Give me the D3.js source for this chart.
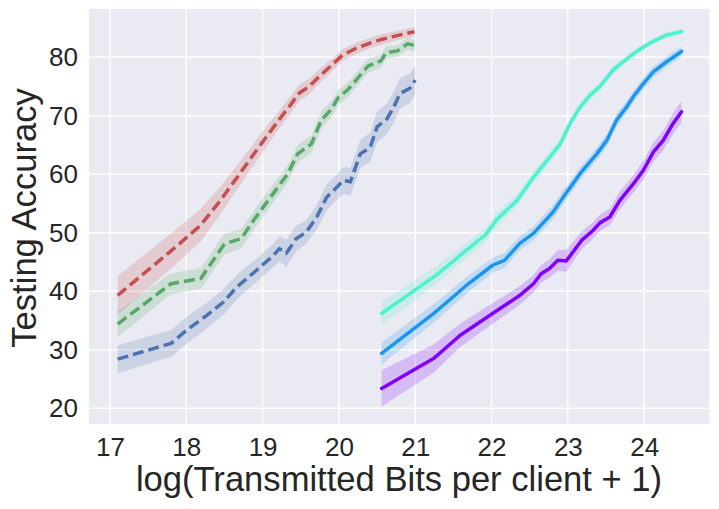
<!DOCTYPE html>
<html>
<head>
    <script src="https://d3js.org/d3.v7.min.js"></script>
    <style>
        body { margin: 0; background: #ffffff; }
        text { font-family: "Liberation Sans", Arial, sans-serif; fill: #262626; }
    </style>
</head>
<body>
<div id="chart"></div>
<script>
    // Tick values
    var xTicks = [17, 18, 19, 20, 21, 22, 23, 24];
    var yTicks = [20, 30, 40, 50, 60, 70, 80];

    // Dashed series
    var redX = [17.1, 17.8, 18.18, 18.44, 18.7, 18.98, 19.22, 19.35, 19.48, 19.61, 19.74, 19.91, 20.05, 20.22, 20.4, 20.57, 20.79, 20.99];
    var redY = [39.3, 46.9, 51.2, 55.4, 60.1, 65.2, 69.4, 71.6, 73.9, 75.0, 76.7, 78.7, 80.4, 81.5, 82.4, 83.1, 83.8, 84.4];
    var redErr = [3.3, 3.0, 2.8, 2.4, 2.0, 1.8, 1.5, 1.5, 1.4, 1.3, 1.2, 1.1, 1.0, 1.0, 0.9, 0.9, 0.8, 0.8];

    var greenX = [17.1, 17.8, 18.19, 18.5, 18.72, 18.88, 19.07, 19.33, 19.46, 19.64, 19.77, 19.9, 19.99, 20.12, 20.25, 20.38, 20.55, 20.62, 20.77, 20.9, 21.0];
    var greenY = [34.4, 41.3, 42.2, 48.1, 49.0, 52.1, 55.5, 60.1, 63.5, 65.2, 69.3, 71.1, 73.1, 74.5, 76.5, 78.5, 79.4, 80.8, 81.1, 82.3, 82.0];
    var greenErr = [2.2, 1.8, 1.8, 1.8, 1.7, 1.6, 1.6, 1.5, 1.5, 1.5, 1.5, 1.4, 1.3, 1.3, 1.2, 1.2, 1.1, 1.1, 1.0, 1.0, 1.0];

    var blueX = [17.1, 17.8, 18.0, 18.27, 18.49, 18.66, 18.92, 19.14, 19.22, 19.31, 19.44, 19.57, 19.71, 19.84, 19.95, 20.06, 20.15, 20.28, 20.41, 20.5, 20.63, 20.72, 20.8, 20.93, 21.0];
    var blueY = [28.4, 31.1, 33.3, 35.9, 38.2, 40.7, 43.6, 46.1, 47.3, 46.5, 49.0, 50.1, 52.7, 56.1, 57.5, 59.0, 58.7, 63.5, 64.6, 68.1, 69.5, 71.5, 73.8, 74.7, 76.1];
    var blueErr = [2.4, 2.3, 2.3, 2.2, 2.2, 2.1, 2.0, 2.0, 2.2, 2.3, 2.2, 2.0, 2.1, 2.2, 2.2, 2.3, 2.4, 2.4, 2.5, 2.6, 2.6, 2.6, 2.6, 2.5, 2.5];

    // Solid series
    var aquaX = [20.56, 21.28, 21.93, 22.07, 22.33, 22.55, 22.76, 22.9, 23.03, 23.16, 23.29, 23.42, 23.59, 23.73, 23.9, 24.07, 24.29, 24.49];
    var aquaY = [36.2, 42.8, 49.8, 52.3, 55.5, 59.5, 62.9, 65.2, 68.7, 71.5, 73.5, 75.0, 77.8, 79.3, 81.0, 82.4, 83.8, 84.4];
    var aquaErr = [2.0, 1.5, 1.2, 1.2, 1.1, 1.0, 1.0, 0.9, 0.9, 0.8, 0.8, 0.7, 0.7, 0.6, 0.6, 0.5, 0.5, 0.5];

    var skyX = [20.56, 21.24, 21.67, 22.02, 22.17, 22.37, 22.55, 22.81, 22.94, 23.16, 23.38, 23.51, 23.64, 23.77, 23.86, 23.99, 24.12, 24.29, 24.49];
    var skyY = [29.4, 36.2, 41.0, 44.5, 45.3, 48.2, 49.9, 53.6, 56.1, 60.1, 63.5, 65.8, 69.3, 71.5, 73.3, 75.5, 77.5, 79.2, 81.0];
    var skyErr = [1.9, 1.6, 1.4, 1.3, 1.3, 1.2, 1.2, 1.2, 1.2, 1.1, 1.1, 1.1, 1.1, 1.0, 1.0, 1.0, 1.0, 0.9, 0.9];

    var purpleX = [20.56, 21.24, 21.59, 21.98, 22.37, 22.55, 22.65, 22.76, 22.87, 22.98, 23.18, 23.33, 23.42, 23.55, 23.68, 23.86, 23.99, 24.12, 24.25, 24.38, 24.49];
    var purpleY = [23.4, 28.5, 32.5, 35.9, 39.3, 41.3, 43.0, 43.9, 45.3, 45.2, 48.7, 50.4, 51.7, 52.7, 55.5, 58.4, 60.7, 63.8, 65.8, 68.7, 70.7];
    var purpleErr = [3.1, 2.4, 2.0, 1.8, 1.6, 1.5, 1.5, 1.6, 1.8, 1.9, 1.5, 1.4, 1.4, 1.4, 1.5, 1.5, 1.6, 1.6, 1.7, 1.8, 1.8];

    var series = [
        { x: redX, y: redY, err: redErr, color: "#c44e52", dashed: true },
        { x: greenX, y: greenY, err: greenErr, color: "#55a868", dashed: true },
        { x: blueX, y: blueY, err: blueErr, color: "#4c72b0", dashed: true },
        { x: aquaX, y: aquaY, err: aquaErr, color: "#4cf2ce", dashed: false },
        { x: skyX, y: skyY, err: skyErr, color: "#1a96f2", dashed: false },
        { x: purpleX, y: purpleY, err: purpleErr, color: "#8000ff", dashed: false }
    ];

    var width = 719, height = 509;
    var margin = { top: 9, right: 10, bottom: 85, left: 89 };

    var svg = d3.select("#chart").append("svg")
        .attr("width", width)
        .attr("height", height);

    var x = d3.scaleLinear()
        .domain([16.725, 24.85])
        .range([margin.left, width - margin.right]);

    var y = d3.scaleLinear()
        .domain([17.32, 88.26])
        .range([height - margin.bottom, margin.top]);

    // Background
    svg.append("rect")
        .attr("x", margin.left)
        .attr("y", margin.top)
        .attr("width", width - margin.left - margin.right)
        .attr("height", height - margin.top - margin.bottom)
        .attr("fill", "#eaeaf2");

    // Grid
    svg.append("g")
        .selectAll("line")
        .data(xTicks)
        .enter().append("line")
        .attr("x1", d => x(d)).attr("x2", d => x(d))
        .attr("y1", margin.top).attr("y2", height - margin.bottom)
        .attr("stroke", "#ffffff").attr("stroke-width", 1.4);

    svg.append("g")
        .selectAll("line")
        .data(yTicks)
        .enter().append("line")
        .attr("y1", d => y(d)).attr("y2", d => y(d))
        .attr("x1", margin.left).attr("x2", width - margin.right)
        .attr("stroke", "#ffffff").attr("stroke-width", 1.4);

    // Bands and lines
    series.forEach(function (s) {
        var pts = s.x.map(function (v, i) { return { x: v, y: s.y[i], e: s.err[i] }; });

        svg.append("path")
            .datum(pts)
            .attr("d", d3.area()
                .x(d => x(d.x))
                .y0(d => y(d.y - d.e))
                .y1(d => y(d.y + d.e)))
            .attr("fill", s.color)
            .attr("fill-opacity", 0.2);

        svg.append("path")
            .datum(pts)
            .attr("d", d3.line().x(d => x(d.x)).y(d => y(d.y)))
            .attr("fill", "none")
            .attr("stroke", s.color)
            .attr("stroke-width", 3.5)
            .attr("stroke-linecap", s.dashed ? "butt" : "round")
            .attr("stroke-linejoin", "round")
            .attr("stroke-dasharray", s.dashed ? "11,5" : null);
    });

    // Axes
    var xAxis = svg.append("g")
        .attr("transform", "translate(0," + (height - margin.bottom) + ")")
        .call(d3.axisBottom(x).tickValues(xTicks).tickSize(0).tickPadding(14));

    var yAxis = svg.append("g")
        .attr("transform", "translate(" + margin.left + ",0)")
        .call(d3.axisLeft(y).tickValues(yTicks).tickSize(0).tickPadding(11));

    [xAxis, yAxis].forEach(function (a) {
        a.select(".domain").remove();
        a.selectAll("text")
            .style("font-family", "Liberation Sans, Arial, sans-serif")
            .style("font-size", "26px")
            .attr("fill", "#262626");
    });

    // Labels
    svg.append("text")
        .attr("x", (margin.left + width - margin.right) / 2)
        .attr("y", 491)
        .attr("text-anchor", "middle")
        .style("font-size", "34.6px")
        .text("log(Transmitted Bits per client + 1)");

    svg.append("text")
        .attr("transform", "rotate(-90)")
        .attr("x", -218)
        .attr("y", 36)
        .attr("text-anchor", "middle")
        .style("font-size", "34.6px")
        .text("Testing Accuracy");
</script>
</body>
</html>
